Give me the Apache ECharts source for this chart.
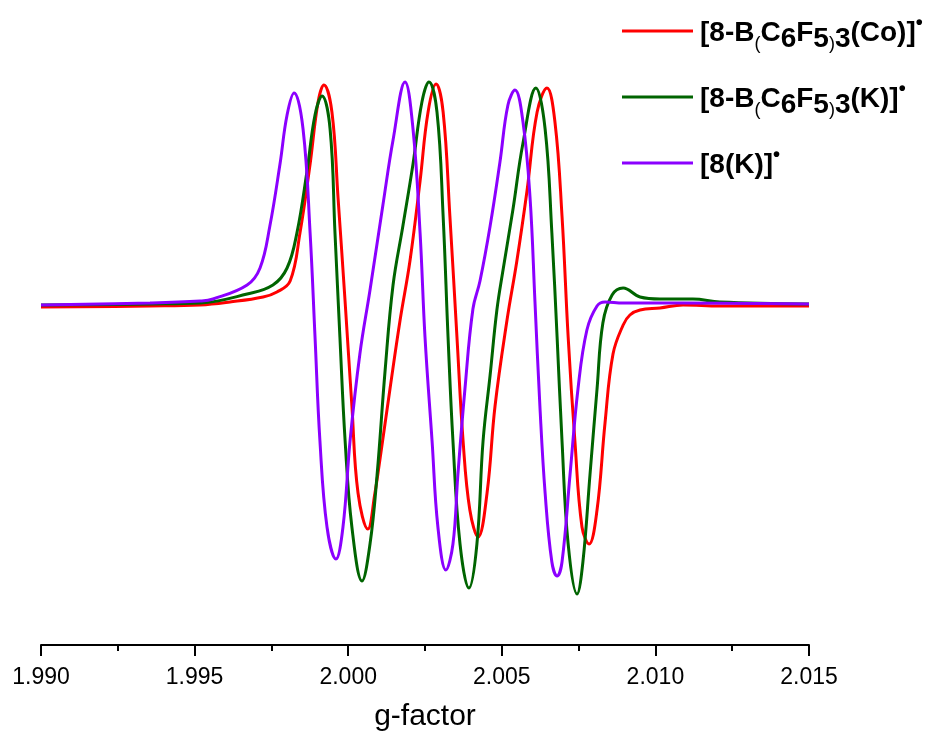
<!DOCTYPE html>
<html>
<head>
<meta charset="utf-8">
<script src="https://cdn.jsdelivr.net/npm/echarts@6/dist/echarts.min.js"></script>
<style>html,body{margin:0;padding:0;background:#fff}#c{width:928px;height:731px}</style>
</head>
<body>
<div id="c"></div>
<script>
// g-factor values and intensities (arbitrary units)
const redG = [1.99000,1.99355,1.99518,1.99615,1.99723,1.99768,1.99811,1.99843,1.99876,1.99902,1.99921,1.99947,1.99967,1.99990,2.00012,2.00032,2.00064,2.00087,2.00104,2.00136,2.00169,2.00201,2.00234,2.00260,2.00286,2.00309,2.00331,2.00354,2.00374,2.00396,2.00423,2.00452,2.00478,2.00517,2.00549,2.00582,2.00615,2.00647,2.00673,2.00696,2.00716,2.00738,2.00761,2.00784,2.00810,2.00836,2.00862,2.00895,2.00917,2.00950,2.01015,2.01090,2.01210,2.01500];
const redI = [-2,-1,0,3,8,13,24,72,141,203,220,193,107,3,-101,-188,-224,-188,-153,-84,-15,44,124,193,221,193,89,-32,-136,-205,-232,-188,-101,-15,44,114,193,217,183,89,-32,-136,-222,-239,-205,-118,-49,-20,-10,-5,-3,0,-1,-1];

const greenG = [1.99000,1.99355,1.99518,1.99671,1.99755,1.99801,1.99833,1.99866,1.99892,1.99915,1.99941,1.99957,1.99973,1.99990,2.00012,2.00045,2.00071,2.00094,2.00120,2.00146,2.00178,2.00211,2.00240,2.00263,2.00289,2.00309,2.00325,2.00341,2.00364,2.00393,2.00419,2.00439,2.00462,2.00484,2.00504,2.00536,2.00569,2.00611,2.00641,2.00663,2.00680,2.00696,2.00716,2.00745,2.00764,2.00787,2.00810,2.00829,2.00859,2.00895,2.00950,2.01015,2.01122,2.01210,2.01500];
const greenI = [0,1,2,11,20,37,72,134,190,209,176,72,-32,-136,-222,-276,-239,-170,-66,20,79,141,203,223,193,89,-32,-136,-239,-283,-239,-136,-70,-5,35,95,162,217,176,72,-32,-136,-239,-289,-257,-170,-84,-18,10,17,8,6,6,3,1];

const purpleG = [1.99000,1.99355,1.99518,1.99560,1.99671,1.99713,1.99745,1.99778,1.99801,1.99824,1.99853,1.99876,1.99892,1.99908,1.99931,1.99960,1.99983,2.00006,2.00038,2.00071,2.00113,2.00146,2.00185,2.00211,2.00234,2.00250,2.00273,2.00292,2.00318,2.00341,2.00357,2.00380,2.00406,2.00429,2.00462,2.00494,2.00520,2.00543,2.00569,2.00592,2.00608,2.00624,2.00641,2.00663,2.00680,2.00696,2.00722,2.00748,2.00777,2.00810,2.00836,2.00895,2.01090,2.01500];
const purpleI = [0,2,4,6,20,37,79,141,190,212,176,72,-32,-136,-222,-254,-222,-136,-49,15,100,165,223,176,72,-32,-136,-222,-265,-239,-170,-84,-4,24,79,143,200,215,183,107,3,-101,-188,-257,-271,-257,-170,-84,-25,-1,3,2,2,1];

const seriesNames = ['Co', 'K', '8K'];
const xTicks = {min: 1.990, max: 2.015, step: 0.005};

function pairs(g, v) { return g.map((x, i) => [x, v[i]]); }

const chart = echarts.init(document.getElementById('c'), null, {renderer: 'canvas'});
const F = 'Liberation Sans, Arial, sans-serif';
const rich = {
  n: {fontFamily: F, fontWeight: 'bold', fontSize: 28, lineHeight: 40, color: '#000', verticalAlign: 'middle'},
  p: {fontFamily: F, fontWeight: 'normal', fontSize: 18, lineHeight: 38, color: '#000', verticalAlign: 'bottom'},
  s: {fontFamily: F, fontWeight: 'bold', fontSize: 28, lineHeight: 27, color: '#000', verticalAlign: 'bottom'},
  d: {fontFamily: F, fontWeight: 'bold', fontSize: 20, lineHeight: 12, color: '#000', verticalAlign: 'top'}
};
const labels = {
  'Co': '{n|[8-B}{p|(}{n|C}{s|6}{n|F}{s|5}{p|)}{s|3}{n|(Co)]}{d|•}',
  'K':  '{n|[8-B}{p|(}{n|C}{s|6}{n|F}{s|5}{p|)}{s|3}{n|(K)]}{d|•}',
  '8K': '{n|[8(K)]}{d|•}'
};

const colors = ['#ff0000', '#006400', '#8b00ff'];
const datas = [pairs(redG, redI), pairs(greenG, greenI), pairs(purpleG, purpleI)];

chart.setOption({
  animation: false,
  backgroundColor: '#fff',
  grid: {left: 41, right: 119, top: 45, bottom: 86, containLabel: false, outerBoundsMode: 'none'},
  legend: {
    orient: 'vertical', left: 622, top: 13, padding: 0,
    icon: 'rect', itemWidth: 71, itemHeight: 3, itemGap: 26,
    data: seriesNames,
    formatter: name => labels[name],
    textStyle: {rich: rich, padding: [4, 0, 0, 2]},
    selectedMode: false
  },
  xAxis: {
    type: 'value', min: xTicks.min, max: xTicks.max, interval: xTicks.step,
    position: 'bottom',
    axisLine: {onZero: false, lineStyle: {color: '#000', width: 2}},
    axisTick: {show: true, length: 11, lineStyle: {color: '#000', width: 2}},
    minorTick: {show: true, splitNumber: 2, length: 6, lineStyle: {color: '#000', width: 2}},
    splitLine: {show: false},
    axisLabel: {color: '#000', fontFamily: F, fontSize: 23, margin: 21, formatter: v => v.toFixed(3)},
    name: 'g-factor', nameLocation: 'middle', nameGap: 57,
    nameTextStyle: {color: '#000', fontFamily: F, fontSize: 30}
  },
  yAxis: {type: 'value', min: -340, max: 260, show: false, splitLine: {show: false}},
  series: seriesNames.map((n, i) => ({
    name: n, type: 'line', data: datas[i], showSymbol: false, symbol: 'none',
    smooth: 0.4,
    lineStyle: {color: colors[i], width: 3}, itemStyle: {color: colors[i]},
    clip: true
  }))
});
</script>
</body>
</html>
